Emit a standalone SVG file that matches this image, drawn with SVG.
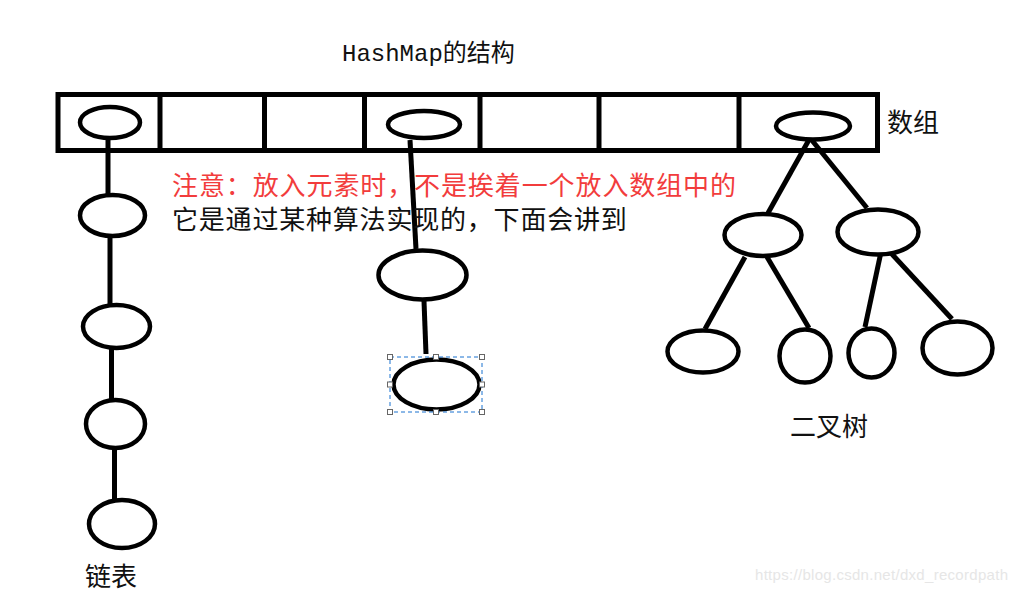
<svg xmlns="http://www.w3.org/2000/svg" width="1018" height="592" viewBox="0 0 1018 592">
<style>
.s{fill:none;stroke:#000;stroke-width:5}
.n{fill:#fff;stroke:#000;stroke-width:4.5}
.t{font-family:"Noto Sans CJK SC","Noto Sans",sans-serif;font-size:26px;fill:#111}
.r{fill:#f23c3c}
.h{stroke:#666;stroke-width:1;fill:#fff}
</style>
<rect width="1018" height="592" fill="#fff"/>
<text x="342" y="61" font-family="'Liberation Mono','Noto Sans CJK SC',monospace" font-size="24" fill="#111">HashMap<tspan font-family="'Noto Sans CJK SC',sans-serif">的结构</tspan></text>
<g id="array">
<rect class="s" x="58" y="94.5" width="819.5" height="56"/>
<line class="s" x1="160" y1="94.5" x2="160" y2="150.5"/>
<line class="s" x1="264.5" y1="94.5" x2="264.5" y2="150.5"/>
<line class="s" x1="364.5" y1="94.5" x2="364.5" y2="150.5"/>
<line class="s" x1="480" y1="94.5" x2="480" y2="150.5"/>
<line class="s" x1="599" y1="94.5" x2="599" y2="150.5"/>
<line class="s" x1="739" y1="94.5" x2="739" y2="150.5"/>
</g>
<text class="t" x="887" y="132" font-size="25">数组</text>
<g id="connectors" class="s" stroke-linecap="butt">
<line x1="108" y1="140" x2="108" y2="195"/>
<line x1="110" y1="237" x2="110" y2="304"/>
<line x1="111.5" y1="349" x2="111.5" y2="400"/>
<line x1="114.5" y1="449" x2="114.5" y2="499"/>
<line x1="410" y1="140" x2="416" y2="249"/>
<line x1="424" y1="301" x2="426" y2="354"/>
<line x1="810" y1="138" x2="768" y2="213"/>
<line x1="810" y1="138" x2="867" y2="208"/>
<line x1="745" y1="257" x2="705" y2="329"/>
<line x1="767" y1="257" x2="809" y2="328"/>
<line x1="881" y1="252" x2="865" y2="327"/>
<line x1="890" y1="252" x2="952" y2="319"/>
</g>
<g id="list">
<ellipse id="l0" class="n" cx="110" cy="122.5" rx="30" ry="15.5"/>
<ellipse id="l1" class="n" cx="112.5" cy="215.5" rx="32.5" ry="20.5"/>
<ellipse id="l2" class="n" cx="116.5" cy="326.5" rx="33.5" ry="21.5"/>
<ellipse id="l3" class="n" cx="115.5" cy="424" rx="29.5" ry="24"/>
<ellipse id="l4" class="n" cx="122" cy="524" rx="33" ry="24"/>
</g>
<g id="mid">
<ellipse id="m0" class="n" cx="424" cy="124.5" rx="36" ry="13.5"/>
<ellipse id="m1" class="n" cx="422.5" cy="275" rx="44" ry="24.5"/>
<ellipse id="m2" class="n" cx="436.5" cy="384.5" rx="43" ry="25" stroke-width="5.5"/>
</g>
<g id="selection">
<rect x="390" y="357" width="92" height="55" fill="none" stroke="#1a73d0" stroke-width="1" stroke-dasharray="4,3"/>
<rect class="h" x="387.5" y="354.5" width="5" height="5"/>
<rect class="h" x="433.5" y="354.5" width="5" height="5"/>
<rect class="h" x="479.5" y="354.5" width="5" height="5"/>
<rect class="h" x="387.5" y="382" width="5" height="5"/>
<rect class="h" x="479.5" y="382" width="5" height="5"/>
<rect class="h" x="387.5" y="409.5" width="5" height="5"/>
<rect class="h" x="433.5" y="409.5" width="5" height="5"/>
<rect class="h" x="479.5" y="409.5" width="5" height="5"/>
</g>
<g id="tree">
<ellipse id="t0" class="n" cx="813" cy="126" rx="37" ry="13.5"/>
<ellipse id="t1" class="n" cx="763" cy="235" rx="38.5" ry="21"/>
<ellipse id="t2" class="n" cx="878" cy="232" rx="40.5" ry="22.5"/>
<ellipse id="t3" class="n" cx="703" cy="351.5" rx="35.5" ry="21"/>
<ellipse id="t4" class="n" cx="805" cy="356" rx="25.5" ry="26.5"/>
<ellipse id="t5" class="n" cx="871.5" cy="353" rx="23" ry="24.5"/>
<ellipse id="t6" class="n" cx="957.5" cy="348" rx="35" ry="26.5"/>
</g>
<text class="t r" x="172" y="195" letter-spacing="0.9">注意：放入元素时，不是挨着一个放入数组中的</text>
<text class="t" x="172" y="229" letter-spacing="0.8">它是通过某种算法实现的，下面会讲到</text>
<text class="t" x="85" y="586">链表</text>
<text class="t" x="790" y="436">二叉树</text>
<text x="755" y="580" font-family="'Liberation Sans',sans-serif" font-size="15" fill="#e6e6e6" textLength="253">https://blog.csdn.net/dxd_recordpath</text>
</svg>
